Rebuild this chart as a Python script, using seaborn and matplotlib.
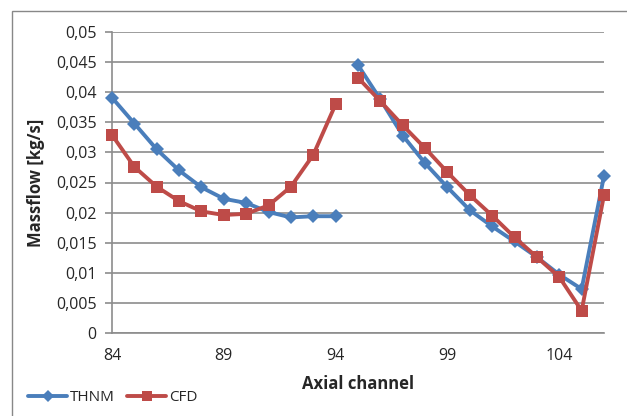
import numpy as np
import matplotlib
matplotlib.use('Agg')
import matplotlib.pyplot as plt
import seaborn as sns
from matplotlib.patches import Rectangle
from matplotlib.ticker import FuncFormatter

# Data (two segments per series, gap between 94 and 95)
channels_a = [84, 85, 86, 87, 88, 89, 90, 91, 92, 93, 94]
channels_b = [95, 96, 97, 98, 99, 100, 101, 102, 103, 104, 105, 106]

thnm_a = [0.0391, 0.0348, 0.0305, 0.0270, 0.0242, 0.0223, 0.0216, 0.0201, 0.0192, 0.0194, 0.0194]
thnm_b = [0.0445, 0.0388, 0.0328, 0.0282, 0.0242, 0.0204, 0.0177, 0.0152, 0.0126, 0.0097, 0.0073, 0.0261]

cfd_a = [0.0329, 0.0276, 0.0243, 0.0219, 0.0202, 0.0196, 0.0198, 0.0212, 0.0243, 0.0296, 0.0380]
cfd_b = [0.0424, 0.0385, 0.0345, 0.0307, 0.0267, 0.0229, 0.0195, 0.0159, 0.0126, 0.0093, 0.0037, 0.0229]

blue = '#4A7EBB'
red = '#BE4B48'

sns.set_style('white')
plt.rcParams['font.family'] = ['Open Sans', 'DejaVu Sans']

fig = plt.figure(figsize=(6.27, 4.16), dpi=100)
ax = fig.add_axes([112 / 627, 83 / 416, 492 / 627, 301 / 416])

# outer chart border (cropped)
fig.patches.append(Rectangle((12 / 627, -0.1), 1.2, (416 - 11) / 416 + 0.1,
                             transform=fig.transFigure, fill=False,
                             edgecolor='#888888', linewidth=1))

for x, y in [(channels_a, thnm_a), (channels_b, thnm_b)]:
    sns.lineplot(x=x, y=y, ax=ax, color=blue, linewidth=2.8, marker='D',
                 markersize=7.5, markeredgewidth=0, clip_on=False, zorder=3)
for x, y in [(channels_a, cfd_a), (channels_b, cfd_b)]:
    sns.lineplot(x=x, y=y, ax=ax, color=red, linewidth=2.8, marker='s',
                 markersize=9, markeredgewidth=0, clip_on=False, zorder=4)

ax.set_xlim(84, 106)
ax.set_ylim(0, 0.05)
ax.set_yticks(np.arange(0, 0.0501, 0.005))
ax.set_xticks([84, 89, 94, 99, 104])
ax.yaxis.set_major_formatter(FuncFormatter(lambda v, p: ('%g' % round(v, 4)).replace('.', ',')))

ax.grid(axis='y', color='#8c8c8c', linewidth=1.2)
ax.grid(axis='x', visible=False)
for s in ['top', 'right']:
    ax.spines[s].set_visible(False)
ax.spines['left'].set_color('#8c8c8c')
ax.spines['bottom'].set_color('#8c8c8c')
ax.spines['left'].set_linewidth(1.2)
ax.spines['bottom'].set_linewidth(1.2)

ax.tick_params(axis='y', length=5, width=1.2, color='#8c8c8c', labelsize=11.5, pad=6, left=True)
ax.tick_params(axis='x', length=0, labelsize=11.5, pad=11)

ax.set_xlabel('Axial channel', fontsize=12, fontweight='bold', labelpad=8)
ax.set_ylabel('Massflow [kg/s]', fontsize=12, fontweight='bold', labelpad=8)

handles = [plt.Line2D([], [], color=blue, linewidth=2.8, marker='D', markersize=6, markeredgewidth=0),
           plt.Line2D([], [], color=red, linewidth=2.8, marker='s', markersize=7, markeredgewidth=0)]
fig.legend(handles, ['THNM', 'CFD'], loc='lower left', bbox_to_anchor=(20 / 627, 3 / 416),
           ncol=2, frameon=False, fontsize=11, handlelength=2.6, handletextpad=0.15,
           columnspacing=0.8, borderaxespad=0.1)

fig.savefig('out.png', dpi=100)
